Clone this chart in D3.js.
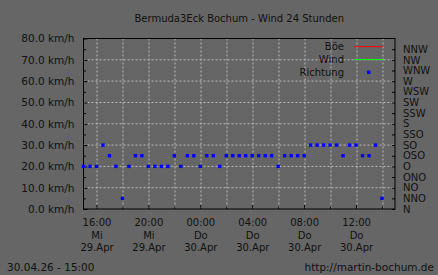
<!DOCTYPE html>
<html>
<head>
<meta charset="utf-8">
<script src="https://cdn.jsdelivr.net/npm/d3@7"></script>
<style>
  body { margin: 0; background: #666666; }
  svg { display: block; font-family: "DejaVu Sans", sans-serif; font-size: 10px; }
  text { fill: #111; }
</style>
</head>
<body>
<svg width="438" height="275"></svg>
<script>
// wind data, 29.04.26 15:00 - 30.04.26 15:00
var times = [
  "2026-04-29T15:00", "2026-04-29T15:30", "2026-04-29T16:00", "2026-04-29T16:30",
  "2026-04-29T17:00", "2026-04-29T17:30", "2026-04-29T18:00", "2026-04-29T18:30",
  "2026-04-29T19:00", "2026-04-29T19:30", "2026-04-29T20:00", "2026-04-29T20:30",
  "2026-04-29T21:00", "2026-04-29T21:30", "2026-04-29T22:00", "2026-04-29T22:30",
  "2026-04-29T23:00", "2026-04-29T23:30", "2026-04-30T00:00", "2026-04-30T00:30",
  "2026-04-30T01:00", "2026-04-30T01:30", "2026-04-30T02:00", "2026-04-30T02:30",
  "2026-04-30T03:00", "2026-04-30T03:30", "2026-04-30T04:00", "2026-04-30T04:30",
  "2026-04-30T05:00", "2026-04-30T05:30", "2026-04-30T06:00", "2026-04-30T06:30",
  "2026-04-30T07:00", "2026-04-30T07:30", "2026-04-30T08:00", "2026-04-30T08:30",
  "2026-04-30T09:00", "2026-04-30T09:30", "2026-04-30T10:00", "2026-04-30T10:30",
  "2026-04-30T11:00", "2026-04-30T11:30", "2026-04-30T12:00", "2026-04-30T12:30",
  "2026-04-30T13:00", "2026-04-30T13:30", "2026-04-30T14:00"
];
var richtung = [
  "O", "O", "O", "SO", "OSO", "O", "NNO", "O",
  "OSO", "OSO", "O", "O", "O", "O", "OSO", "O",
  "OSO", "OSO", "O", "OSO", "OSO", "O", "OSO", "OSO",
  "OSO", "OSO", "OSO", "OSO", "OSO", "OSO", "O", "OSO",
  "OSO", "OSO", "OSO", "SO", "SO", "SO", "SO", "SO",
  "OSO", "SO", "SO", "OSO", "OSO", "SO", "NNO"
];
// no speed values were recorded in this period
var boe = times.map(function() { return null; });
var wind = times.map(function() { return null; });

var directions = ["N", "NNO", "NO", "ONO", "O", "OSO", "SO", "SSO",
                  "S", "SSW", "SW", "WSW", "W", "WNW", "NW", "NNW"];
var speedTicks = [0, 10, 20, 30, 40, 50, 60, 70, 80];
var speedMinor = [5, 15, 25, 35, 45, 55, 65, 75];
var timeTicks = ["2026-04-29T16:00", "2026-04-29T20:00", "2026-04-30T00:00",
                 "2026-04-30T04:00", "2026-04-30T08:00", "2026-04-30T12:00"];
var timeMinor = ["2026-04-29T18:00", "2026-04-29T22:00", "2026-04-30T02:00",
                 "2026-04-30T06:00", "2026-04-30T10:00", "2026-04-30T14:00"];
var tickHours = ["16:00", "20:00", "00:00", "04:00", "08:00", "12:00"];
var tickDays = ["Mi", "Mi", "Do", "Do", "Do", "Do"];
var tickDates = ["29.Apr", "29.Apr", "30.Apr", "30.Apr", "30.Apr", "30.Apr"];
var timeRange = ["2026-04-29T15:00", "2026-04-30T15:00"];

var svg = d3.select("svg"),
    margin = {top: 38.5, right: 43, bottom: 66, left: 83.5},
    width = +svg.attr("width") - margin.left - margin.right,
    height = +svg.attr("height") - margin.top - margin.bottom;

function parse(s) { return new Date(s + ":00Z"); }

var x = d3.scaleUtc()
    .domain(timeRange.map(parse))
    .range([0, width]);
var y = d3.scaleLinear()
    .domain([0, 80])
    .range([height, 0]);
var yDir = d3.scaleLinear()
    .domain([0, directions.length - 1])
    .range([y(0), y(75)]);

svg.append("text")
    .attr("x", margin.left + width / 2)
    .attr("y", 21.5)
    .attr("text-anchor", "middle")
    .text("Bermuda3Eck Bochum - Wind 24 Stunden");

var g = svg.append("g")
    .attr("transform", "translate(" + margin.left + "," + margin.top + ")");

// dashed grid
var grid = g.append("g")
    .attr("stroke", "#bcbcbc")
    .attr("stroke-dasharray", "2,2")
    .attr("stroke-width", 1);
grid.selectAll(".hgrid")
    .data(speedTicks.slice(1, -1))
    .enter().append("line")
    .attr("x1", 0).attr("x2", width)
    .attr("y1", function(d) { return y(d); })
    .attr("y2", function(d) { return y(d); });
grid.selectAll(".vgrid")
    .data(timeTicks.concat(timeMinor).map(parse))
    .enter().append("line")
    .attr("y1", 0).attr("y2", height)
    .attr("x1", function(d) { return Math.round(x(d)) + 0.5; })
    .attr("x2", function(d) { return Math.round(x(d)) + 0.5; });

// speed axis
var yAx = g.append("g")
    .attr("class", "axis axis--y")
    .call(d3.axisLeft(y).tickValues(speedTicks).tickSize(-4).tickPadding(9)
        .tickFormat(function(d) { return d3.format(".1f")(d) + " km/h"; }));
g.append("g")
    .call(d3.axisLeft(y).tickValues(speedMinor).tickSize(-2.5).tickFormat(""));

// direction axis
g.append("g")
    .attr("transform", "translate(" + width + ",0)")
    .call(d3.axisRight(yDir).tickValues(d3.range(directions.length))
        .tickSize(-3).tickPadding(8)
        .tickFormat(function(i) { return directions[i]; }));

// time axis
var xAx = g.append("g")
    .attr("transform", "translate(0," + height + ")")
    .call(d3.axisBottom(x).tickValues(timeTicks.map(parse)).tickSize(-4).tickFormat(""));
g.append("g")
    .attr("transform", "translate(0," + height + ")")
    .call(d3.axisBottom(x).tickValues(timeMinor.map(parse)).tickSize(-2.5).tickFormat(""));

var lbl = xAx.selectAll(".tick").append("text")
    .attr("text-anchor", "middle")
    .attr("fill", "#111");
lbl.append("tspan").attr("x", 0).attr("y", 17)
    .text(function(d, i) { return tickHours[i]; });
lbl.append("tspan").attr("x", 0).attr("y", 29.5)
    .text(function(d, i) { return tickDays[i]; });
lbl.append("tspan").attr("x", 0).attr("y", 42.3)
    .text(function(d, i) { return tickDates[i]; });

g.selectAll(".domain").attr("stroke", "none");
g.selectAll(".tick line").attr("stroke", "#000");
g.selectAll(".tick text").attr("fill", "#111").attr("font-size", 10)
    .attr("font-family", "DejaVu Sans, sans-serif");
yAx.selectAll(".tick text").attr("font-size", 10.5);

// frame
g.append("rect")
    .attr("width", width)
    .attr("height", height)
    .attr("fill", "none")
    .attr("stroke", "#000");

// speed lines (empty in this period)
var line = d3.line()
    .defined(function(d) { return d[1] !== null; })
    .x(function(d) { return x(d[0]); })
    .y(function(d) { return y(d[1]); });
[[boe, "#ff0000"], [wind, "#00ff00"]].forEach(function(s) {
    g.append("path")
        .datum(times.map(function(t, i) { return [parse(t), s[0][i]]; }))
        .attr("fill", "none")
        .attr("stroke", s[1])
        .attr("d", line);
});

// direction points
g.selectAll(".dir")
    .data(times.map(function(t, i) { return [parse(t), directions.indexOf(richtung[i])]; }))
    .enter().append("rect")
    .attr("x", function(d) { return x(d[0]) - 1.7; })
    .attr("y", function(d) { return yDir(d[1]) - 1.7; })
    .attr("width", 3.4)
    .attr("height", 3.4)
    .attr("fill", "#0000ff");

// legend
var legend = svg.append("g");
var items = [["Böe", "#ff0000", "line"], ["Wind", "#00ff00", "line"], ["Richtung", "#0000ff", "dot"]];
items.forEach(function(it, i) {
    var ly = 46.7 + i * 12.8;
    legend.append("text")
        .attr("x", 344)
        .attr("y", ly + 3.5)
        .attr("text-anchor", "end")
        .text(it[0]);
    if (it[2] === "line") {
        legend.append("line")
            .attr("x1", 354).attr("x2", 383)
            .attr("y1", ly).attr("y2", ly)
            .attr("stroke", it[1]);
    } else {
        legend.append("rect")
            .attr("x", 367).attr("y", ly - 1.7)
            .attr("width", 3.4).attr("height", 3.4)
            .attr("fill", it[1]);
    }
});

svg.append("text")
    .attr("x", 7)
    .attr("y", 270.5)
    .attr("font-size", 10.5)
    .text("30.04.26 - 15:00");
svg.append("text")
    .attr("x", 434)
    .attr("y", 270.5)
    .attr("font-size", 10.5)
    .attr("text-anchor", "end")
    .text("http://martin-bochum.de");
</script>
</body>
</html>
